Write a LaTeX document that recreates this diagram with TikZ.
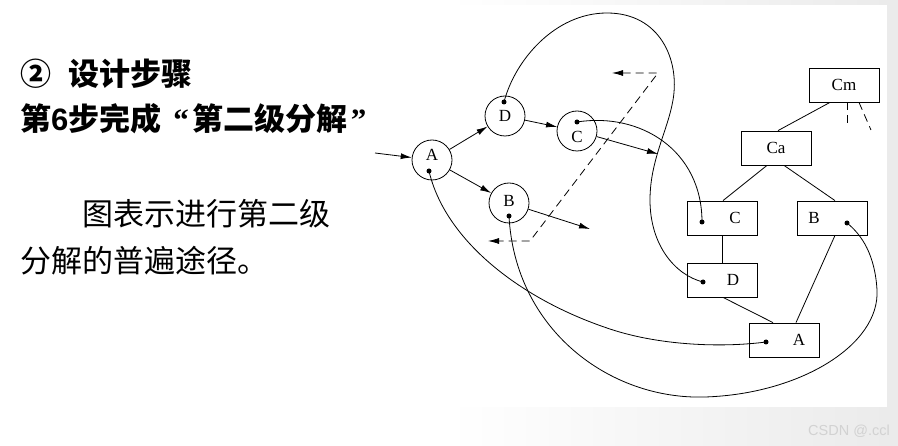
\documentclass[tikz,border=0pt]{standalone}
\usepackage{fontspec}
\setmainfont{Liberation Serif}
\newfontfamily\cjk{Noto Sans CJK SC}
\newfontfamily\wmfont{Liberation Sans}
\usetikzlibrary{arrows.meta}

\begin{document}
\begin{tikzpicture}[x=1pt,y=-1pt,
  arr/.style={-{Latex[length=11pt,width=6pt]},line width=0.8pt},
  conn/.style={line width=0.8pt},
  dsh/.style={line width=0.8pt,dash pattern=on 8pt off 5pt},
  circ/.style={draw,circle,minimum size=40pt,inner sep=0pt,line width=0.8pt},
  box/.style={draw,rectangle,minimum width=70pt,minimum height=34pt,inner sep=0pt,line width=0.8pt},
  lbl/.style={inner sep=0pt,font=\fontsize{17}{20}\selectfont},
  dot/.style={circle,fill,inner sep=0pt,minimum size=5pt},
  title/.style={anchor=base west,inner sep=0pt,font=\cjk\fontsize{31}{36}\selectfont},
  btitle/.style={title,font=\cjk\bfseries\fontsize{31}{36}\selectfont}]
\useasboundingbox (0,0) rectangle (898,446);
\shade[left color=white,right color=gray!16,middle color=white] (0,0) rectangle (898,446);

% slide text
\node[btitle] (t1) at (20,86) {②\hspace{17pt}设计步骤};
\node[btitle] (t2) at (20,131) {第{\wmfont\bfseries 6}步完成\hspace{12pt}{\rmfamily\bfseries “}\hspace{4pt}第二级分解\hspace{3pt}{\rmfamily\bfseries ”}};
\node[title] (t3) at (82,226) {图表示进行第二级};
\node[title] (t4) at (20,273) {分解的普遍途径。};

% picture area
\fill[white] (368,5) rectangle (887,407);

% circles
\node[circ,label={[lbl,yshift=5pt]center:A}] (A) at (432,160) {};
\node[circ,label={[lbl]center:D}] (D) at (505,116) {};
\node[circ,label={[lbl,yshift=-6pt]center:C}] (C) at (577,131) {};
\node[circ,label={[lbl,yshift=2pt]center:B}] (B) at (509,203) {};
\node[dot] (dA) at ([xshift=-3pt,yshift=-11pt]A.center) {};
\node[dot] (dD) at ([xshift=-1pt,yshift=14pt]D.center) {};
\node[dot] (dC) at ([yshift=9pt]C.center) {};
\node[dot] (dB) at ([yshift=-13pt]B.center) {};

% boxes
\node[box,label={[lbl]center:Cm}] (bCm) at (844,85) {};
\node[box,label={[lbl]center:Ca}] (bCa) at (776,148) {};
\node[box,label={[lbl,xshift=13pt]center:C}] (bC) at (722,218) {};
\node[box,label={[lbl,xshift=-18pt]center:B}] (bB) at (832,218) {};
\node[box,label={[lbl,xshift=11pt]center:D}] (bD) at (722,280) {};
\node[box,label={[lbl,xshift=15pt]center:A}] (bA) at (784,340) {};
\node[dot] (bdC) at ([xshift=-20pt,yshift=-4pt]bC.center) {};
\node[dot] (bdB) at ([xshift=15pt,yshift=-5pt]bB.center) {};
\node[dot] (bdD) at ([xshift=-19pt,yshift=-2pt]bD.center) {};
\node[dot] (bdA) at ([xshift=-18pt,yshift=-2pt]bA.center) {};

% free ends
\coordinate (inA) at (375,153);
\coordinate (outC) at (658,154);
\coordinate (outB) at (590,229);
\coordinate (q1) at (612,73);
\coordinate (q2) at (658,73);
\coordinate (q3) at (530,241);
\coordinate (q4) at (488,241);
\coordinate (m1) at (847,127);
\coordinate (m2) at (871,130);

% arrows between circles
\draw[arr] (inA) -- (A);
\draw[arr] (A) -- (D);
\draw[arr] (D) -- (C);
\draw[arr] (A) -- (B);
\draw[arr] (C) -- (outC);
\draw[arr] (B) -- (outB);
\draw[dsh,{Latex[length=11pt,width=6pt]}-{Latex[length=11pt,width=6pt]}] (q1) -- (q2) -- (q3) -- (q4);

% tree
\draw[conn] ([xshift=-14pt]bCm.south) -- ([xshift=2pt]bCa.north);
\draw[dsh] ([xshift=3pt]bCm.south) -- (m1);
\draw[dsh] ([xshift=15pt]bCm.south) -- (m2);
\draw[conn] ([xshift=-9pt]bCa.south) -- ([xshift=1pt]bC.north);
\draw[conn] ([xshift=8pt]bCa.south) -- ([xshift=3pt]bB.north);
\draw[conn] (bC.south) -- (bD.north);
\draw[conn] ([xshift=1pt]bD.south) -- ([xshift=-11pt]bA.north);
\draw[conn] ([xshift=3pt]bB.south) -- ([xshift=12pt]bA.north);

% mapping curves
\draw[conn] (dD.center) .. controls (515,60) and (555,13) .. (607,13)
  .. controls (660,13) and (680,60) .. (673,100)
  .. controls (668,130) and (650,160) .. (650,200)
  .. controls (650,245) and (675,275) .. (bdD.center);
\draw[conn] (dC.center) .. controls (640,112) and (702,150) .. (bdC.center);
\draw[conn] (dA.center) .. controls (445,240) and (520,300) .. (613,330)
  .. controls (660,345) and (720,348) .. (bdA.center);
\draw[conn] (dB.center) .. controls (515,330) and (610,400) .. (705,397)
  .. controls (800,394) and (880,345) .. (877,290)
  .. controls (875,255) and (862,235) .. (bdB.center);

\node[font=\wmfont\fontsize{14.5}{16}\selectfont,text=gray!35,anchor=base east,inner sep=0pt] (wm) at (890,436) {CSDN @.ccl};
\end{tikzpicture}
\end{document}
